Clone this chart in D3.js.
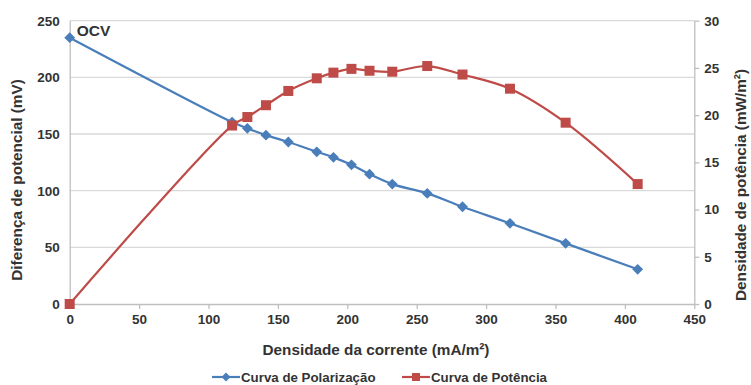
<!DOCTYPE html>
<html>
<head>
<meta charset="utf-8">
<script src="https://cdn.jsdelivr.net/npm/d3@7"></script>
<style>
  html, body { margin: 0; padding: 0; background: #fff; }
  svg { display: block; font-family: "Liberation Sans", Arial, sans-serif; }
</style>
</head>
<body>
<svg id="chart" width="751" height="385"></svg>
<script>
// Current density (mA/m²)
const currentDensity = [0, 117, 128, 141.4, 157.5, 178, 190, 203, 216, 232.4, 257.6, 283, 317.2, 357.3, 409.2];
// Potential difference (mV) – polarization curve
const potential = [235, 160.5, 155, 149, 143, 134.3, 129.4, 122.8, 114.6, 105.8, 97.6, 85.8, 71.2, 53.5, 30.6];
// Power density (mW/m²) – power curve
const power = [0, 18.9, 19.8, 21.05, 22.56, 23.9, 24.5, 24.9, 24.7, 24.6, 25.2, 24.3, 22.8, 19.2, 12.7];

const xTicks = [0, 50, 100, 150, 200, 250, 300, 350, 400, 450];
const yLeftTicks = [0, 50, 100, 150, 200, 250];
const yRightTicks = [0, 5, 10, 15, 20, 25, 30];

const seriesNames = ["Curva de Polarização", "Curva de Potência"];
const colors = ["#4A7EBB", "#BE4B48"];

const svg = d3.select("#chart");
const m = { left: 69.7, right: 694.3, top: 20.7, bottom: 304 };

const x = d3.scaleLinear().domain([0, 450]).range([m.left, m.right]);
const yL = d3.scaleLinear().domain([0, 250]).range([m.bottom, m.top]);
const yR = d3.scaleLinear().domain([0, 30]).range([m.bottom, m.top]);

const textColor = "#333";
const gridColor = "#d9d9d9";
const axisColor = "#bfbfbf";

// horizontal gridlines
svg.append("g").selectAll("line")
  .data(yLeftTicks.filter(d => d > 0))
  .join("line")
  .attr("x1", m.left).attr("x2", m.right)
  .attr("y1", d => yL(d)).attr("y2", d => yL(d))
  .attr("stroke", gridColor).attr("stroke-width", 1.3);

// axes
function styleAxis(g) {
  g.select(".domain").attr("stroke", axisColor).attr("stroke-width", 1.3);
  g.selectAll(".tick line").attr("stroke", axisColor).attr("stroke-width", 1.3);
  g.selectAll(".tick text")
    .attr("fill", textColor)
    .style("font-size", "13.5px")
    .style("font-weight", "bold");
}

svg.append("g")
  .attr("transform", `translate(0,${m.bottom})`)
  .call(d3.axisBottom(x).tickValues(xTicks).tickSize(5).tickSizeOuter(0).tickPadding(5))
  .call(styleAxis);

svg.append("g")
  .attr("transform", `translate(${m.left},0)`)
  .call(d3.axisLeft(yL).tickValues(yLeftTicks).tickSize(0).tickSizeOuter(0).tickPadding(10))
  .call(styleAxis);

svg.append("g")
  .attr("transform", `translate(${m.right},0)`)
  .call(d3.axisRight(yR).tickValues(yRightTicks).tickSize(5).tickSizeOuter(0).tickPadding(5))
  .call(styleAxis);

// series lines
const polLine = d3.line().x((d, i) => x(currentDensity[i])).y(d => yL(d)).curve(d3.curveCatmullRom.alpha(0.5));
const powLine = d3.line().x((d, i) => x(currentDensity[i])).y(d => yR(d)).curve(d3.curveCatmullRom.alpha(0.5));

svg.append("path").datum(potential)
  .attr("d", polLine).attr("fill", "none")
  .attr("stroke", colors[0]).attr("stroke-width", 2.2);

svg.append("path").datum(power)
  .attr("d", powLine).attr("fill", "none")
  .attr("stroke", colors[1]).attr("stroke-width", 2.2);

// markers
const diamond = d3.symbol().type(d3.symbolDiamond2).size(75);
svg.append("g").selectAll("path")
  .data(potential)
  .join("path")
  .attr("d", diamond)
  .attr("transform", (d, i) => `translate(${x(currentDensity[i])},${yL(d)})`)
  .attr("fill", colors[0]);

svg.append("g").selectAll("rect")
  .data(power)
  .join("rect")
  .attr("x", (d, i) => x(currentDensity[i]) - 5)
  .attr("y", d => yR(d) - 5)
  .attr("width", 10).attr("height", 10)
  .attr("fill", colors[1]);

// OCV annotation
svg.append("text")
  .attr("x", x(currentDensity[0]) + 7)
  .attr("y", yL(potential[0]) - 2)
  .attr("fill", textColor)
  .style("font-size", "15.5px").style("font-weight", "bold")
  .text("OCV");

// axis titles
svg.append("text")
  .attr("x", 376).attr("y", 355)
  .attr("text-anchor", "middle")
  .attr("fill", textColor)
  .style("font-size", "15.3px").style("font-weight", "bold")
  .text("Densidade da corrente (mA/m²)");

svg.append("text")
  .attr("transform", "translate(22,180) rotate(-90)")
  .attr("text-anchor", "middle")
  .attr("fill", textColor)
  .style("font-size", "15.3px").style("font-weight", "bold")
  .text("Diferença de potencial (mV)");

svg.append("text")
  .attr("transform", "translate(746,185) rotate(-90)")
  .attr("text-anchor", "middle")
  .attr("fill", textColor)
  .style("font-size", "15.3px").style("font-weight", "bold")
  .text("Densidade de potência (mW/m²)");

// legend
const legend = svg.append("g").attr("transform", "translate(0,377)");
const legendX = [212, 402];
seriesNames.forEach((name, i) => {
  const g = legend.append("g").attr("transform", `translate(${legendX[i]},0)`);
  g.append("line").attr("x1", 0).attr("x2", 28).attr("y1", 0).attr("y2", 0)
    .attr("stroke", colors[i]).attr("stroke-width", 2.2);
  if (i === 0) {
    g.append("path").attr("d", d3.symbol().type(d3.symbolDiamond2).size(50))
      .attr("transform", "translate(14,0)").attr("fill", colors[i]);
  } else {
    g.append("rect").attr("x", 10).attr("y", -4).attr("width", 8).attr("height", 8)
      .attr("fill", colors[i]);
  }
  g.append("text").attr("x", 29).attr("y", 5)
    .attr("fill", textColor)
    .style("font-size", "13.3px").style("font-weight", "bold")
    .text(name);
});
</script>
</body>
</html>
